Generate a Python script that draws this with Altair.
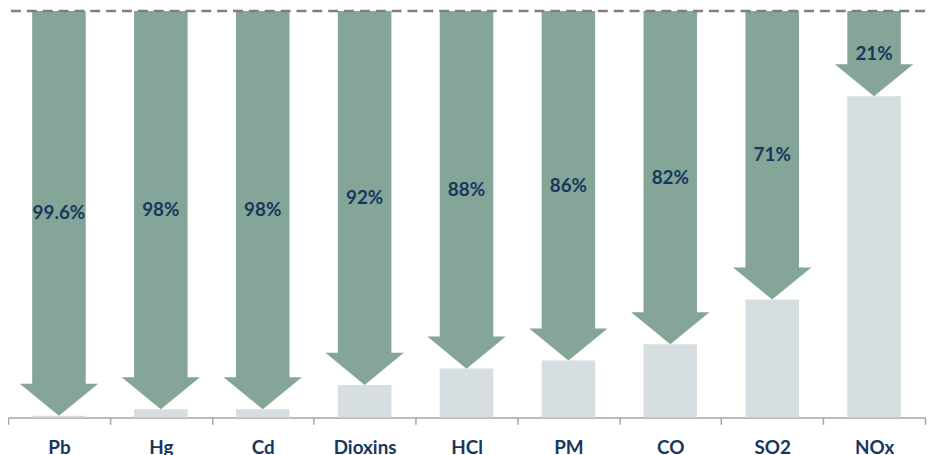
import altair as alt
import pandas as pd

pollutants = ["Pb", "Hg", "Cd", "Dioxins", "HCl", "PM", "CO", "SO2", "NOx"]
reductions = [99.6, 98, 98, 92, 88, 86, 82, 71, 21]
labels = ["99.6%", "98%", "98%", "92%", "88%", "86%", "82%", "71%", "21%"]

GREEN = "#84a598"
GREY = "#d6dee1"
NAVY = "#17375e"
HEAD = 7.7  # arrow-head height in data units

df = pd.DataFrame({"pollutant": pollutants, "reduction": reductions, "label": labels})

x = alt.X("pollutant:N", sort=pollutants, title=None,
          scale=alt.Scale(paddingInner=0, paddingOuter=0),
          axis=alt.Axis(labelAngle=0, labelFont="Lato", labelFontWeight="bold",
                        labelFontSize=19, labelColor=NAVY, labelPadding=14,
                        domainColor="#a6a6a6", domainWidth=1.5, tickColor="#a6a6a6",
                        tickWidth=1.5, tickSize=7, tickBand="extent"))
yscale = alt.Scale(domain=[0, 100], nice=False, zero=True)

base = alt.Chart(df).transform_calculate(
    remaining="100 - datum.reduction",
    shaft_end="100 - datum.reduction + " + str(HEAD),
    mid="(100 + (100 - datum.reduction)) / 2",
    top="100",
)

remain_bar = base.mark_bar(color=GREY, size=54).encode(
    x=x,
    y=alt.Y("remaining:Q", scale=yscale, axis=None),
    y2=alt.datum(0),
)

shaft = base.mark_bar(color=GREEN, size=54).encode(
    x=x,
    y=alt.Y("top:Q", scale=yscale, axis=None),
    y2="shaft_end:Q",
)

head = base.mark_point(
    shape="M-1,-0.82 L1,-0.82 L0,0 Z", size=6241, filled=True,
    color=GREEN, opacity=1, strokeWidth=0,
).encode(
    x=x,
    y=alt.Y("remaining:Q", scale=yscale, axis=None),
)

text = base.mark_text(font="Lato", fontWeight="bold", fontSize=19, color=NAVY,
                      baseline="middle").encode(
    x=x,
    y=alt.Y("mid:Q", scale=yscale, axis=None),
    text="label:N",
)

rule = alt.Chart(pd.DataFrame({"v": [100]})).mark_rule(
    color="#7f7f7f", strokeDash=[10, 6], strokeWidth=2.5
).encode(y=alt.Y("v:Q", scale=yscale, axis=None))

chart = alt.layer(remain_bar, shaft, head, text, rule).properties(
    width=925, height=410,
    autosize=alt.AutoSizeParams(type="none"),
    padding={"left": 0, "top": 1, "right": 3, "bottom": 40},
).configure_view(stroke=None)

chart.save("out.html", embed_options={"renderer": "svg", "actions": False})
